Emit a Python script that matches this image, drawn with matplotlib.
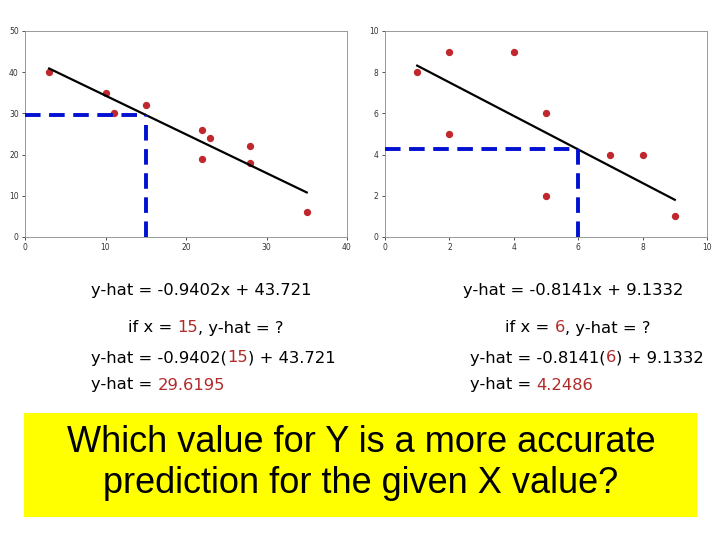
import matplotlib.pyplot as plt
from matplotlib.patches import Rectangle

# Left data set
x1 = [3, 10, 11, 15, 22, 23, 22, 28, 28, 35]
y1 = [40, 35, 30, 32, 26, 24, 19, 22, 18, 6]
slope1, intercept1 = -0.9402, 43.721
given_x1 = 15
yhat1 = 29.6195

# Right data set
x2 = [1, 2, 2, 4, 5, 5, 7, 8, 9]
y2 = [8, 9, 5, 9, 6, 2, 4, 4, 1]
slope2, intercept2 = -0.8141, 9.1332
given_x2 = 6
yhat2 = 4.2486

left_ticks_x = [0, 10, 20, 30, 40]
left_ticks_y = [0, 10, 20, 30, 40, 50]
right_ticks_x = [0, 2, 4, 6, 8, 10]
right_ticks_y = [0, 2, 4, 6, 8, 10]

RED = '#c0282d'
BLUE = '#0010d0'
TXT_RED = '#b02a2a'

fig = plt.figure(figsize=(7.2, 5.4), dpi=100)


def draw_panel(ax, xs, ys, slope, intercept, gx, gy, xt, yt):
    ax.scatter(xs, ys, s=18, color=RED, zorder=2)
    # fitted line between smallest and largest x
    lo, hi = min(xs), max(xs)
    ax.plot([lo, hi], [slope * lo + intercept, slope * hi + intercept],
            color='black', lw=1.6, zorder=3)
    # dashed guides to the prediction
    ax.plot([0, gx], [gy, gy], color=BLUE, lw=2.8, dashes=(4, 2.2), zorder=4)
    ax.plot([gx, gx], [0, gy], color=BLUE, lw=2.8, dashes=(4, 2.2), zorder=4)
    ax.set_xlim(xt[0], xt[-1])
    ax.set_ylim(yt[0], yt[-1])
    ax.set_xticks(xt)
    ax.set_yticks(yt)
    ax.tick_params(labelsize=5.5, length=2.5, width=0.6, colors='#333333', pad=2)
    for s in ax.spines.values():
        s.set_color('#999999')
        s.set_linewidth(0.7)


ax1 = fig.add_axes([25 / 720, 1 - 237 / 540, 322 / 720, 206 / 540])
draw_panel(ax1, x1, y1, slope1, intercept1, given_x1, yhat1, left_ticks_x, left_ticks_y)

ax2 = fig.add_axes([385 / 720, 1 - 237 / 540, 322 / 720, 206 / 540])
draw_panel(ax2, x2, y2, slope2, intercept2, given_x2, yhat2, right_ticks_x, right_ticks_y)


def colored_line(x, y, parts, size=11.8):
    # parts: list of (text, colour); each piece starts where the last ended
    last = None
    for txt, col in parts:
        if last is None:
            last = fig.text(x / 720, 1 - y / 540, txt, color=col, fontsize=size,
                            family='DejaVu Sans', va='center', ha='left')
        else:
            last = ax1.annotate(txt, xy=(1, 0), xycoords=last, color=col,
                                fontsize=size, family='DejaVu Sans',
                                va='bottom', ha='left', annotation_clip=False)


colored_line(91, 290, [('y-hat = -0.9402x + 43.721', 'black')])
colored_line(128, 328, [('if x = ', 'black'), (str(given_x1), TXT_RED), (', y-hat = ?', 'black')])
colored_line(91, 358, [('y-hat = -0.9402(', 'black'), (str(given_x1), TXT_RED), (') + 43.721', 'black')])
colored_line(91, 385, [('y-hat = ', 'black'), (f'{yhat1:.4f}', TXT_RED)])

colored_line(463, 290, [('y-hat = -0.8141x + 9.1332', 'black')])
colored_line(505, 328, [('if x = ', 'black'), (str(given_x2), TXT_RED), (', y-hat = ?', 'black')])
colored_line(470, 358, [('y-hat = -0.8141(', 'black'), (str(given_x2), TXT_RED), (') + 9.1332', 'black')])
colored_line(470, 385, [('y-hat = ', 'black'), (f'{yhat2:.4f}', TXT_RED)])

# yellow question box
fig.patches.append(Rectangle((24 / 720, 1 - 517 / 540), 673 / 720, 104 / 540,
                             transform=fig.transFigure, facecolor='#ffff00',
                             edgecolor='none', zorder=0))
fig.text(361 / 720, 1 - 463 / 540,
         'Which value for Y is a more accurate\nprediction for the given X value?',
         ha='center', va='center', fontsize=26, family='Liberation Sans',
         linespacing=1.2, color='black')

fig.savefig('out.png', dpi=100)
